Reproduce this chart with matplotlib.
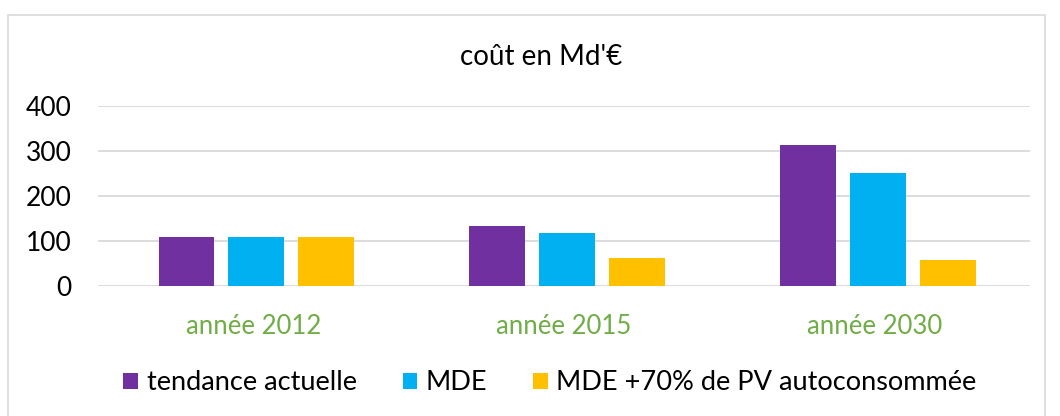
import matplotlib
matplotlib.use("Agg")
import matplotlib.pyplot as plt
from matplotlib.patches import Rectangle
import numpy as np

categories = ["année 2012", "année 2015", "année 2030"]
series_names = ["tendance actuelle", "MDE", "MDE +70% de PV autoconsommée"]
tendance = [108, 133, 313]
mde = [108, 117, 251]
mde_pv = [108, 63, 58]
colors = ["#7030A0", "#00B0F0", "#FFC000"]
y_ticks = [0, 100, 200, 300, 400]

plt.rcParams["font.family"] = ["Lato", "DejaVu Sans"]

fig = plt.figure(figsize=(10.6, 4.16), dpi=100)
fig.patches.append(Rectangle((8 / 1060, -0.1), 1037 / 1060, 1.1 - 15 / 416,
                             transform=fig.transFigure, fill=False,
                             edgecolor="#D9D9D9", linewidth=1.2))

ax = fig.add_axes([98 / 1060, 1 - 286 / 416, 932 / 1060, 180 / 416])
x = np.arange(len(categories))
width = 0.18
step = 0.225
for i, (vals, name) in enumerate(zip([tendance, mde, mde_pv], series_names)):
    ax.bar(x + 0.01 + (i - 1) * step, vals, width, color=colors[i], label=name, zorder=3)

ax.set_xlim(-0.5, 2.5)
ax.set_ylim(0, 400)
ax.set_yticks(y_ticks)
ax.set_yticklabels([str(v) for v in y_ticks], fontsize=19, color="#000000")
ax.yaxis.grid(True, color="#D9D9D9", linewidth=1.3, zorder=0)
ax.set_xticks(x)
ax.set_xticklabels(categories, fontsize=18.5, color="#70AD47")
ax.tick_params(axis="both", length=0)
ax.tick_params(axis="x", pad=20)
ax.tick_params(axis="y", pad=19)
for s in ax.spines.values():
    s.set_visible(False)

fig.text(541 / 1060, 1 - 57 / 416, "coût en Md'€", fontsize=20, ha="center", va="center")

fig.legend(loc="center", bbox_to_anchor=(550 / 1060, 1 - 383 / 416), ncol=3,
           frameon=False, fontsize=19.5, handlelength=0.55, handleheight=0.55,
           handletextpad=0.3, columnspacing=1.7)

fig.savefig("out.png", dpi=100)
